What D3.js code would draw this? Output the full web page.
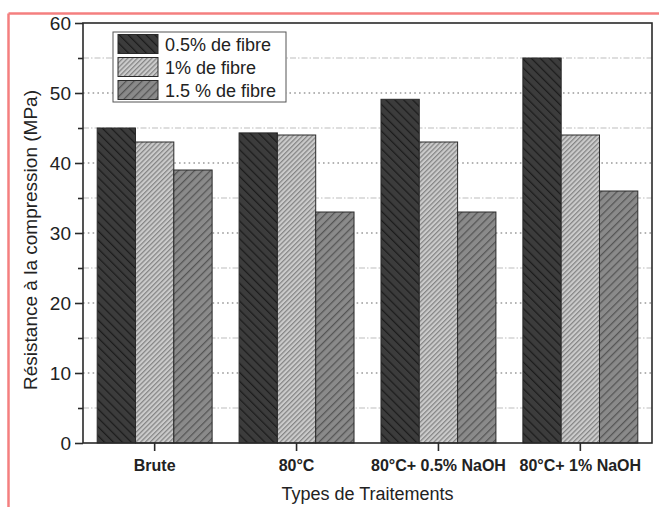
<!DOCTYPE html>
<html>
<head>
<meta charset="utf-8">
<script src="https://cdn.jsdelivr.net/npm/d3@7"></script>
<style>
  body { margin: 0; background: #fff; }
  text { font-family: "Liberation Sans", Arial, sans-serif; fill: #222; }
</style>
</head>
<body>
<svg id="chart"></svg>
<script>
var categories = ["Brute", "80°C", "80°C+ 0.5% NaOH", "80°C+ 1% NaOH"];
var seriesNames = ["0.5% de fibre", "1% de fibre", "1.5 % de fibre"];
var fibre05 = [45, 44.3, 49.1, 55];
var fibre1 = [43, 44, 43, 44];
var fibre15 = [39, 33, 33, 36];
var yTicks = [0, 10, 20, 30, 40, 50, 60];
var yMinorTicks = [5, 15, 25, 35, 45, 55];

var W = 659, H = 507;
var plotL = 83, plotT = 23, plotR = 652, plotB = 443;

var svg = d3.select("#chart")
    .attr("width", W)
    .attr("height", H);

// pink frame of the screenshot
svg.append("line").attr("x1", 8.5).attr("x2", W).attr("y1", 13.5).attr("y2", 13.5)
    .attr("stroke", "#f47f7f").attr("stroke-width", 2.5);
svg.append("line").attr("x1", 8.5).attr("x2", 8.5).attr("y1", 13.5).attr("y2", H)
    .attr("stroke", "#f47f7f").attr("stroke-width", 2.5);

// hatch patterns
var fills = [
    {id: "h0", bg: "#3c3c3c", line: "#1c1c1c", gap: 6.3, rot: -45},
    {id: "h1", bg: "#cbcbcb", line: "#858585", gap: 3.4, rot: 45},
    {id: "h2", bg: "#8a8a8a", line: "#555555", gap: 5.6, rot: 45}
];
var defs = svg.append("defs");
fills.forEach(function(f) {
    var p = defs.append("pattern")
        .attr("id", f.id)
        .attr("patternUnits", "userSpaceOnUse")
        .attr("width", f.gap)
        .attr("height", f.gap)
        .attr("patternTransform", "rotate(" + f.rot + ")");
    p.append("rect").attr("width", f.gap).attr("height", f.gap).attr("fill", f.bg);
    p.append("line").attr("x1", 0.6).attr("x2", 0.6).attr("y1", 0).attr("y2", f.gap)
        .attr("stroke", f.line).attr("stroke-width", 1.3);
});

var x = d3.scaleBand()
    .domain(categories)
    .range([plotL, plotR])
    .paddingInner(0.19)
    .paddingOuter(0.1);
var xSub = d3.scaleBand()
    .domain(d3.range(seriesNames.length))
    .range([0, x.bandwidth()]);
var y = d3.scaleLinear()
    .domain([0, 60])
    .range([plotB, plotT]);

// grid
svg.append("g").selectAll("line")
    .data(yMinorTicks)
    .enter().append("line")
    .attr("x1", plotL).attr("x2", plotR)
    .attr("y1", function(d) { return y(d); })
    .attr("y2", function(d) { return y(d); })
    .attr("stroke", "#bdbdbd").attr("stroke-width", 1)
    .attr("stroke-dasharray", "6,2,1.5,2");
svg.append("g").selectAll("line")
    .data(yTicks.slice(1, -1))
    .enter().append("line")
    .attr("x1", plotL).attr("x2", plotR)
    .attr("y1", function(d) { return y(d); })
    .attr("y2", function(d) { return y(d); })
    .attr("stroke", "#9a9a9a").attr("stroke-width", 1.3)
    .attr("stroke-dasharray", "1.6,3.2");

// bars
var allSeries = [fibre05, fibre1, fibre15];
allSeries.forEach(function(vals, s) {
    svg.append("g").selectAll("rect")
        .data(vals)
        .enter().append("rect")
        .attr("x", function(d, i) { return x(categories[i]) + xSub(s); })
        .attr("y", function(d) { return y(d); })
        .attr("width", xSub.bandwidth())
        .attr("height", function(d) { return y(0) - y(d); })
        .attr("fill", "url(#" + fills[s].id + ")")
        .attr("stroke", "#2a2a2a")
        .attr("stroke-width", 1);
});

// frame
svg.append("rect")
    .attr("x", plotL).attr("y", plotT)
    .attr("width", plotR - plotL).attr("height", plotB - plotT)
    .attr("fill", "none").attr("stroke", "#2a2a2a").attr("stroke-width", 1.6);

// y axis
var yAxis = svg.append("g")
    .attr("transform", "translate(" + plotL + ",0)")
    .call(d3.axisLeft(y).tickValues(yTicks).tickSize(8).tickPadding(4));
yAxis.select(".domain").remove();
yAxis.selectAll(".tick line").attr("stroke", "#2a2a2a").attr("stroke-width", 1.6);
yAxis.selectAll(".tick text")
    .style("font-size", "19px")
    .style("font-family", "Liberation Sans, Arial, sans-serif")
    .attr("fill", "#222");
svg.append("g")
    .attr("transform", "translate(" + plotL + ",0)")
    .call(d3.axisLeft(y).tickValues(yMinorTicks).tickSize(5).tickFormat(""))
    .call(function(g) {
        g.select(".domain").remove();
        g.selectAll(".tick line").attr("stroke", "#2a2a2a").attr("stroke-width", 1.6);
    });

// x axis
var xAxis = svg.append("g")
    .attr("transform", "translate(0," + plotB + ")")
    .call(d3.axisBottom(x).tickSize(8).tickPadding(9));
xAxis.select(".domain").remove();
xAxis.selectAll(".tick line").attr("stroke", "#2a2a2a").attr("stroke-width", 1.6);
xAxis.selectAll(".tick text")
    .style("font-size", "16px")
    .style("font-weight", "bold")
    .style("font-family", "Liberation Sans, Arial, sans-serif")
    .attr("fill", "#222");

// axis titles
svg.append("text")
    .attr("x", (plotL + plotR) / 2)
    .attr("y", 500)
    .attr("text-anchor", "middle")
    .style("font-size", "18px")
    .text("Types de Traitements");
svg.append("text")
    .attr("transform", "rotate(-90)")
    .attr("x", -240)
    .attr("y", 37)
    .attr("text-anchor", "middle")
    .style("font-size", "19px")
    .text("Résistance à la compression (MPa)");

// legend
var legend = svg.append("g").attr("transform", "translate(113,32)");
legend.append("rect")
    .attr("width", 173).attr("height", 70)
    .attr("fill", "#fff").attr("stroke", "#555").attr("stroke-width", 1);
var rows = legend.selectAll(".row")
    .data(seriesNames)
    .enter().append("g")
    .attr("transform", function(d, i) { return "translate(5," + (2.5 + i * 23) + ")"; });
rows.append("rect")
    .attr("width", 40).attr("height", 19)
    .attr("fill", function(d, i) { return "url(#" + fills[i].id + ")"; })
    .attr("stroke", "#2a2a2a").attr("stroke-width", 1);
rows.append("text")
    .attr("x", 47).attr("y", 16)
    .style("font-size", "18px")
    .text(function(d) { return d; });
</script>
</body>
</html>
